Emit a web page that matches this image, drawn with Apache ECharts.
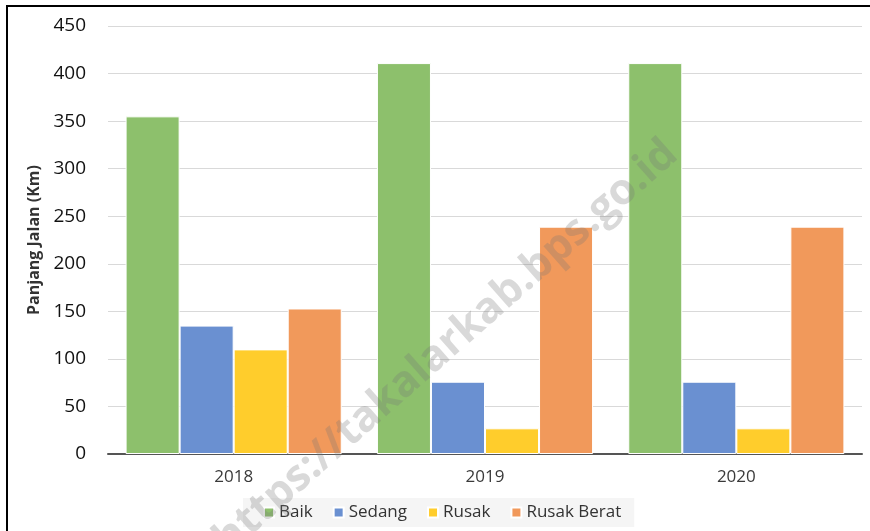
<!DOCTYPE html>
<html>
<head>
<meta charset="utf-8">
<script src="https://cdn.jsdelivr.net/npm/echarts@6/dist/echarts.min.js"></script>
<style>
html,body{margin:0;padding:0;background:#fff;}
#chart{width:870px;height:531px;}
</style>
</head>
<body>
<div id="chart"></div>
<script>
const categories = ['2018', '2019', '2020'];
const seriesNames = ['Baik', 'Sedang', 'Rusak', 'Rusak Berat'];
const baik = [355, 411, 411];
const sedang = [135, 76, 76];
const rusak = [110, 27, 27];
const rusakBerat = [153, 239, 239];
const yTicks = [0, 50, 100, 150, 200, 250, 300, 350, 400, 450];
const colors = ['#8DC06C', '#6A90D1', '#FFCD2C', '#F1995B'];

const dataSets = [baik, sedang, rusak, rusakBerat];
const font = "'Open Sans', 'Noto Sans', sans-serif";

const chart = echarts.init(document.getElementById('chart'), null, {renderer: 'canvas'});
chart.setOption({
  animation: false,
  backgroundColor: '#fff',
  textStyle: {fontFamily: font},
  grid: {left: 108, right: 8, top: 26, bottom: 77, containLabel: false},
  legend: {
    data: seriesNames,
    bottom: 4,
    left: 243,
    itemWidth: 10,
    itemHeight: 10,
    itemGap: 20,
    icon: 'rect',
    padding: [6, 13, 6, 20],
    backgroundColor: '#f5f5f5',
    textStyle: {fontSize: 17, color: '#333', fontFamily: font}
  },
  xAxis: {
    type: 'category',
    data: categories,
    axisLine: {lineStyle: {color: '#555', width: 2}},
    axisTick: {show: false},
    axisLabel: {fontSize: 17, color: '#3a3a3a', margin: 15, fontFamily: font}
  },
  yAxis: {
    type: 'value',
    min: yTicks[0],
    max: yTicks[yTicks.length - 1],
    interval: 50,
    name: 'Panjang Jalan (Km)',
    nameLocation: 'middle',
    nameGap: 66,
    nameTextStyle: {fontSize: 16, fontWeight: 'bold', color: '#333', fontFamily: font},
    axisLine: {show: false},
    axisTick: {show: false},
    axisLabel: {fontSize: 19, color: '#111', margin: 22, fontFamily: font},
    splitLine: {lineStyle: {color: '#d9d9d9', width: 1}}
  },
  series: seriesNames.map((n, i) => ({
    name: n,
    type: 'bar',
    data: dataSets[i],
    barGap: '0%',
    barCategoryGap: '14%',
    itemStyle: {color: colors[i], borderColor: '#fff', borderWidth: 1}
  })),
  graphic: [
    {
      type: 'rect',
      shape: {x: 7, y: 6, width: 1000, height: 800},
      style: {fill: 'none', stroke: '#000', lineWidth: 2},
      z: 100
    },
    {
      type: 'text',
      x: 446,
      y: 347,
      rotation: 41.4 * Math.PI / 180,
      style: {
        text: 'https://takalarkab.bps.go.id',
        fill: 'rgba(120,120,120,0.28)',
        font: "bold 43px 'Open Sans', sans-serif",
        align: 'center',
        verticalAlign: 'middle'
      },
      z: 100
    }
  ]
});
</script>
</body>
</html>
